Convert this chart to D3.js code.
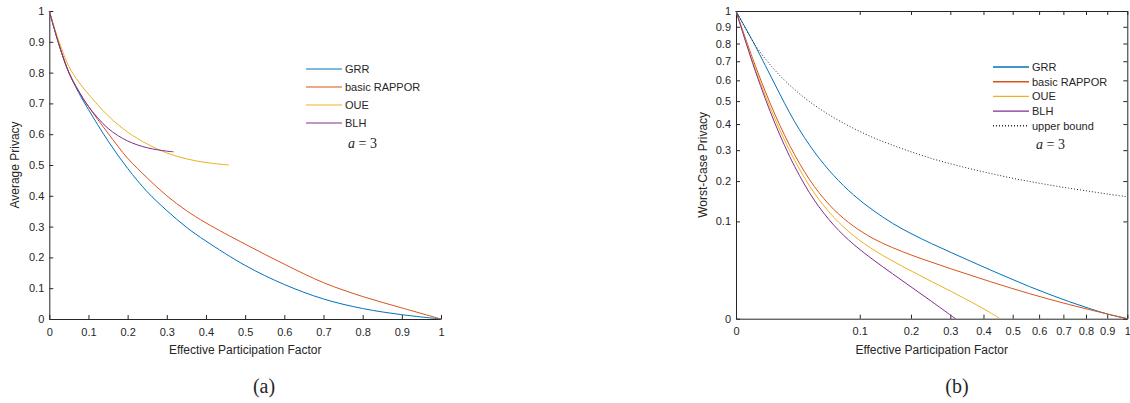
<!DOCTYPE html>
<html>
<head>
<meta charset="utf-8">
<script src="https://cdn.jsdelivr.net/npm/d3@7"></script>
<style>
  body { margin: 0; background: #fff; }
  svg text { font-family: 'Liberation Sans', Arial, sans-serif; fill: #262626; }
  .serif { font-family: 'Liberation Serif', 'Times New Roman', serif; }
</style>
</head>
<body>
<div id="chart"></div>
<script>
// ---- data ----
const seriesNames = ['GRR', 'basic RAPPOR', 'OUE', 'BLH'];
const seriesColors = ['#0072BD', '#D95319', '#EDB120', '#7E2F8E'];

// (a) average privacy
const xAvg = [0, 0.025, 0.05, 0.075, 0.1, 0.15, 0.2, 0.25, 0.3, 0.35, 0.4, 0.5, 0.6, 0.7, 0.8, 0.9, 1];
const grrAvg = [1, 0.89, 0.80, 0.735, 0.68, 0.578, 0.489, 0.413, 0.352, 0.298, 0.253, 0.174, 0.112, 0.065, 0.034, 0.014, 0];
const rapporAvg = [1, 0.89, 0.80, 0.74, 0.69, 0.603, 0.522, 0.458, 0.40, 0.352, 0.312, 0.243, 0.178, 0.118, 0.073, 0.036, 0];
const xOueAvg = [0, 0.025, 0.05, 0.075, 0.1, 0.15, 0.2, 0.25, 0.3, 0.35, 0.4, 0.458];
const oueAvg = [1, 0.90, 0.82, 0.77, 0.73, 0.66, 0.607, 0.568, 0.539, 0.52, 0.508, 0.5];
const xBlhAvg = [0, 0.025, 0.05, 0.075, 0.1, 0.15, 0.2, 0.25, 0.3, 0.317];
const blhAvg = [1, 0.89, 0.80, 0.74, 0.69, 0.619, 0.578, 0.556, 0.545, 0.543];

// (b) worst-case privacy (both axes are square-root scaled)
const xWorst = [0, 0.0025, 0.01, 0.0225, 0.04, 0.0625, 0.09, 0.1225, 0.16, 0.2025, 0.25, 0.3025, 0.36, 0.4225, 0.49, 0.5625, 0.64, 0.7225, 0.81, 0.9025, 1];
const grrWorst = [1, 0.7832, 0.5776, 0.4096, 0.2943, 0.2162, 0.162, 0.1243, 0.0961, 0.0756, 0.0595, 0.0462, 0.0348, 0.0251, 0.0172, 0.0109, 0.00632, 0.00314, 0.00119, 0.000225, 0];
const rapporWorst = [1, 0.6724, 0.4389, 0.2836, 0.1849, 0.126, 0.0906, 0.0681, 0.0534, 0.0424, 0.0337, 0.0262, 0.0199, 0.0145, 0.0101, 0.00664, 0.00403, 0.00216, 0.00093, 0.000225, 0];
const xOueWorst = [0, 0.0025, 0.01, 0.0225, 0.04, 0.0625, 0.09, 0.1225, 0.16, 0.2025, 0.25, 0.3025, 0.36, 0.4225, 0.4556];
const oueWorst = [1, 0.6545, 0.4199, 0.2647, 0.1669, 0.1086, 0.0732, 0.0506, 0.0352, 0.0236, 0.0146, 0.00783, 0.00303, 0.00038, 0];
const xBlhWorst = [0, 0.0025, 0.01, 0.0225, 0.04, 0.0625, 0.09, 0.1225, 0.16, 0.2025, 0.25, 0.3025, 0.3146];
const blhWorst = [1, 0.644, 0.4013, 0.2445, 0.1486, 0.0924, 0.0586, 0.0369, 0.0213, 0.0102, 0.00314, 0.0001, 0];
const upperWorst = [1, 0.788, 0.651, 0.554, 0.482, 0.427, 0.383, 0.347, 0.318, 0.293, 0.271, 0.253, 0.237, 0.223, 0.21, 0.199, 0.189, 0.18, 0.172, 0.164, 0.157];

const ticksA = [0, 0.1, 0.2, 0.3, 0.4, 0.5, 0.6, 0.7, 0.8, 0.9, 1];
const ticksB = [0, 0.1, 0.2, 0.3, 0.4, 0.5, 0.6, 0.7, 0.8, 0.9, 1];

const zip = (xs, ys) => xs.map((x, i) => ({ x: x, y: ys[i] }));

const svg = d3.select('#chart').append('svg')
  .attr('width', 1130)
  .attr('height', 403);

function panel(opts) {
  const g = svg.append('g');
  const x = opts.xScale, y = opts.yScale;
  const [x0, x1] = x.range(), [y0, y1] = y.range();
  const fmt = d => (d === 0 || d === 1) ? String(d) : d3.format('.1f')(d);

  // axes, ticks pointing inward like matlab
  g.append('g').attr('transform', 'translate(0,' + y0 + ')')
    .call(d3.axisBottom(x).tickValues(opts.ticks).tickFormat(fmt).tickSizeInner(-4).tickSizeOuter(0).tickPadding(9));
  g.append('g').attr('transform', 'translate(' + x0 + ',0)')
    .call(d3.axisLeft(y).tickValues(opts.ticks).tickFormat(fmt).tickSizeInner(-4).tickSizeOuter(0).tickPadding(5));
  if (opts.box) {
    g.append('g').attr('transform', 'translate(0,' + y1 + ')')
      .call(d3.axisTop(x).tickValues(opts.ticks).tickFormat('').tickSizeInner(-4).tickSizeOuter(0));
    g.append('g').attr('transform', 'translate(' + x1 + ',0)')
      .call(d3.axisRight(y).tickValues(opts.ticks).tickFormat('').tickSizeInner(-4).tickSizeOuter(0));
  }
  g.selectAll('.domain').attr('stroke', '#262626').attr('stroke-width', 1);
  g.selectAll('.tick line').attr('stroke', '#262626');
  g.selectAll('.tick text').style('font-size', '11px').attr('fill', '#262626');

  // the curves
  const line = d3.line()
    .curve(d3.curveCatmullRom.alpha(0.5))
    .x(d => x(d.x))
    .y(d => y(d.y));
  opts.series.forEach(s => {
    g.append('path')
      .datum(s.data)
      .attr('fill', 'none')
      .attr('stroke', s.color)
      .attr('stroke-width', 1)
      .attr('stroke-dasharray', s.dash || null)
      .attr('d', line);
  });

  // axis labels
  g.append('text')
    .attr('x', (x0 + x1) / 2).attr('y', 354)
    .attr('text-anchor', 'middle').style('font-size', '12px')
    .text('Effective Participation Factor');
  g.append('text')
    .attr('transform', 'translate(' + opts.yLabelX + ',' + ((y0 + y1) / 2) + ') rotate(-90)')
    .attr('text-anchor', 'middle').style('font-size', '12px')
    .text(opts.yLabel);
  g.append('text').attr('class', 'serif')
    .attr('x', opts.capX).attr('y', 393)
    .attr('text-anchor', 'middle').style('font-size', '20px').attr('fill', '#000')
    .text(opts.caption);

  // legend
  const lg = g.append('g');
  opts.series.forEach((s, i) => {
    const ly = opts.legY + i * opts.legStep;
    lg.append('line')
      .attr('x1', opts.legX).attr('x2', opts.legX + 36)
      .attr('y1', ly).attr('y2', ly)
      .attr('stroke', s.color).attr('stroke-width', opts.legWidth)
      .attr('stroke-dasharray', s.dash || null);
    lg.append('text')
      .attr('x', opts.legX + 39).attr('y', ly + 4)
      .style('font-size', '11px')
      .text(s.name);
  });
  const at = lg.append('text').attr('class', 'serif')
    .attr('x', opts.aX).attr('y', opts.aY)
    .style('font-size', '14px').attr('fill', '#000');
  at.append('tspan').style('font-style', 'italic').text('a');
  at.append('tspan').text(' = 3');
}

// (a) linear axes
panel({
  xScale: d3.scaleLinear().domain([0, 1]).range([49.3, 441]),
  yScale: d3.scaleLinear().domain([0, 1]).range([319, 11]),
  ticks: ticksA,
  box: false,
  yLabel: 'Average Privacy', yLabelX: 19,
  caption: '(a)', capX: 264,
  legX: 306, legY: 69, legStep: 18, legWidth: 1,
  aX: 348, aY: 148,
  series: [
    { name: seriesNames[0], color: seriesColors[0], data: zip(xAvg, grrAvg) },
    { name: seriesNames[1], color: seriesColors[1], data: zip(xAvg, rapporAvg) },
    { name: seriesNames[2], color: seriesColors[2], data: zip(xOueAvg, oueAvg) },
    { name: seriesNames[3], color: seriesColors[3], data: zip(xBlhAvg, blhAvg) }
  ]
});

// (b) square-root axes
panel({
  xScale: d3.scaleSqrt().domain([0, 1]).range([736, 1127.3]),
  yScale: d3.scaleSqrt().domain([0, 1]).range([318.7, 11]),
  ticks: ticksB,
  box: true,
  yLabel: 'Worst-Case Privacy', yLabelX: 707,
  caption: '(b)', capX: 957,
  legX: 993, legY: 67, legStep: 14.7, legWidth: 1.4,
  aX: 1036, aY: 149,
  series: [
    { name: seriesNames[0], color: seriesColors[0], data: zip(xWorst, grrWorst) },
    { name: seriesNames[1], color: seriesColors[1], data: zip(xWorst, rapporWorst) },
    { name: seriesNames[2], color: seriesColors[2], data: zip(xOueWorst, oueWorst) },
    { name: seriesNames[3], color: seriesColors[3], data: zip(xBlhWorst, blhWorst) },
    { name: 'upper bound', color: '#262626', dash: '1,2', data: zip(xWorst, upperWorst) }
  ]
});
</script>
</body>
</html>
